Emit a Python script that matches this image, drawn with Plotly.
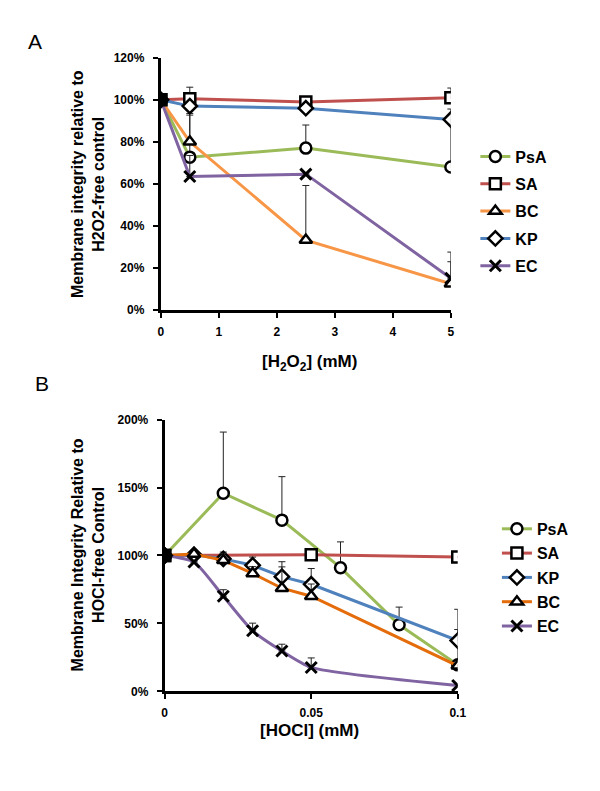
import plotly.graph_objects as go

# ---------- Panel A data (H2O2) ----------
a_x = [0, 0.5, 2.5, 5]
a_psa = [100, 72.7, 77.0, 68.0]
a_psa_err = [0, 20, 11, 22]
a_sa = [100, 100.5, 99.0, 101.0]
a_sa_err = [0, 5.5, 0, 4.6]
a_bc = [100, 80.0, 33.2, 12.4]
a_bc_err = [0, 13.5, 26, 10.5]
a_kp = [100, 97.0, 96.0, 90.6]
a_kp_err = [0, 0, 0, 5]
a_ec = [100, 63.5, 64.6, 15.0]
a_ec_err = [0, 10, 0, 12.5]

# ---------- Panel B data (HOCl) ----------
b_psa_x = [0, 0.02, 0.04, 0.06, 0.08, 0.1]
b_psa = [100, 145.8, 126.0, 91.0, 49.0, 19.5]
b_psa_err = [0, 45, 32, 19, 13, 26]
b_sa_x = [0, 0.05, 0.1]
b_sa = [100, 100.5, 98.8]
b_sa_err = [0, 0, 0]
b_kp_x = [0, 0.01, 0.02, 0.03, 0.04, 0.05, 0.1]
b_kp = [100, 100.5, 97.5, 92.8, 84.4, 78.8, 37.4]
b_kp_err = [0, 0, 5, 6, 11, 11.6, 23]
b_bc_x = [0, 0.01, 0.02, 0.03, 0.04, 0.05, 0.1]
b_bc = [100, 101.0, 96.4, 86.8, 75.9, 70.0, 18.8]
b_bc_err = [0, 0, 5, 5, 15.7, 9, 0]
b_ec_x = [0, 0.01, 0.02, 0.03, 0.04, 0.05, 0.1]
b_ec = [100, 95.2, 70.0, 44.6, 29.7, 17.6, 4.3]
b_ec_err = [0, 0, 4.8, 5.6, 5, 7, 0]

a_yticks = [0, 20, 40, 60, 80, 100, 120]
a_yticklabels = ["0%", "20%", "40%", "60%", "80%", "100%", "120%"]
a_xticks = [0, 1, 2, 3, 4, 5]
b_yticks = [0, 50, 100, 150, 200]
b_yticklabels = ["0%", "50%", "100%", "150%", "200%"]
b_xticks = [0, 0.05, 0.1]
b_xticklabels = ["0", "0.05", "0.1"]

GREEN = "#9BBB59"
RED = "#C0504D"
ORANGE_A = "#F79646"
ORANGE_B = "#E46C0A"
BLUE = "#4F81BD"
PURPLE = "#8064A2"

FONT = "Liberation Sans, Arial, sans-serif"

fig = go.Figure()
overlays = []


def add(x, y, err, name, color, symbol, xa, ya, legend, group, shape="linear"):
    if symbol == "x-thin":
        marker = dict(symbol="x-thin", size=11, color="black",
                      line=dict(color="black", width=3))
    else:
        marker = dict(symbol=symbol, size=11, color="white",
                      line=dict(color="black", width=2.5))
    fig.add_trace(go.Scatter(
        x=x, y=y, name=name, mode="lines+markers",
        line=dict(color=color, width=3, shape=shape, smoothing=0.6),
        marker=marker,
        error_y=dict(type="data", symmetric=False, array=err,
                     arrayminus=[0] * len(err), color="#222222",
                     thickness=1, width=3.5),
        xaxis=xa, yaxis=ya, legend=legend, legendgroup=group,
    ))
    # stacked markers at the shared control point read as a solid black blob
    if symbol != "x-thin":
        overlays.append(go.Scatter(
            x=x[:1], y=y[:1], mode="markers", showlegend=False, hoverinfo="skip",
            marker=dict(symbol=symbol, size=11, color="black",
                        line=dict(color="black", width=2.5)),
            xaxis=xa, yaxis=ya))


add(a_x, a_psa, a_psa_err, "PsA", GREEN, "circle", "x", "y", "legend", "a1")
add(a_x, a_sa, a_sa_err, "SA", RED, "square", "x", "y", "legend", "a2")
add(a_x, a_bc, a_bc_err, "BC", ORANGE_A, "triangle-up", "x", "y", "legend", "a3")
add(a_x, a_kp, a_kp_err, "KP", BLUE, "diamond", "x", "y", "legend", "a4")
add(a_x, a_ec, a_ec_err, "EC", PURPLE, "x-thin", "x", "y", "legend", "a5")

add(b_psa_x, b_psa, b_psa_err, "PsA", GREEN, "circle", "x2", "y2", "legend2", "b1")
add(b_sa_x, b_sa, b_sa_err, "SA", RED, "square", "x2", "y2", "legend2", "b2")
add(b_kp_x, b_kp, b_kp_err, "KP", BLUE, "diamond", "x2", "y2", "legend2", "b3")
add(b_bc_x, b_bc, b_bc_err, "BC", ORANGE_B, "triangle-up", "x2", "y2", "legend2", "b4")
add(b_ec_x, b_ec, b_ec_err, "EC", PURPLE, "x-thin", "x2", "y2", "legend2", "b5", shape="spline")

for tr in overlays:
    fig.add_trace(tr)

W, H = 600, 791


def px(v):
    return v / W


def py(v):
    return (H - v) / H


tickfont = dict(family=FONT, size=12, color="black", weight="bold")
axcommon = dict(showline=True, linecolor="black", linewidth=3, ticks="outside",
                tickcolor="black", tickwidth=2, ticklen=5, showgrid=False,
                zeroline=False, tickfont=tickfont, mirror=False)

fig.update_layout(
    width=W, height=H, plot_bgcolor="white", paper_bgcolor="white",
    margin=dict(l=0, r=0, t=0, b=0),
    xaxis=dict(domain=[px(161), px(457)], range=[0, 5], tickvals=a_xticks,
               anchor="y", ticklabelstandoff=4, **axcommon),
    yaxis=dict(domain=[py(308.3), py(51.7)], range=[0, 120], tickvals=a_yticks,
               ticktext=a_yticklabels, anchor="x", ticklabelstandoff=6, **axcommon),
    xaxis2=dict(domain=[px(165), px(464)], range=[0, 0.1], tickvals=b_xticks,
                ticktext=b_xticklabels, anchor="y2", ticklabelstandoff=3, **axcommon),
    yaxis2=dict(domain=[py(696.7), py(420)], range=[0, 200], tickvals=b_yticks,
                ticktext=b_yticklabels, anchor="x2", ticklabelstandoff=6, **axcommon),
    legend=dict(x=px(482), y=py(135), xanchor="left", yanchor="top",
                font=dict(family=FONT, size=16, color="black", weight="bold"),
                tracegroupgap=3.5, itemwidth=30, bgcolor="rgba(0,0,0,0)"),
    legend2=dict(x=px(504), y=py(514), xanchor="left", yanchor="top",
                 font=dict(family=FONT, size=16, color="black", weight="bold"),
                 tracegroupgap=0.5, itemwidth=30, bgcolor="rgba(0,0,0,0)"),
    showlegend=True,
)

titlefont = dict(family=FONT, size=16, color="black", weight="bold")


def ann(x, y, text, font, angle=0):
    fig.add_annotation(x=px(x), y=py(y), xref="paper", yref="paper", text=text,
                       textangle=angle, showarrow=False, font=font,
                       xanchor="center", yanchor="middle")


ann(87, 180, "Membrane integrity relative to<br>H2O2-free control", titlefont, -90)
ann(87, 558, "Membrane Integrity Relative to<br>HOCl-free Control", titlefont, -90)
ann(313, 362, "[H<sub>2</sub>O<sub>2</sub>] (mM)",
    dict(family=FONT, size=17, color="black", weight="bold"))
ann(313, 737, "[HOCl] (mM)", dict(family=FONT, size=17, color="black", weight="bold"))
ann(33, 35, "A", dict(family=FONT, size=21, color="black"))
ann(40, 383, "B", dict(family=FONT, size=21, color="black"))

fig.write_html("out.html", config={"displayModeBar": False},
               post_script="document.body.style.margin='0';")
